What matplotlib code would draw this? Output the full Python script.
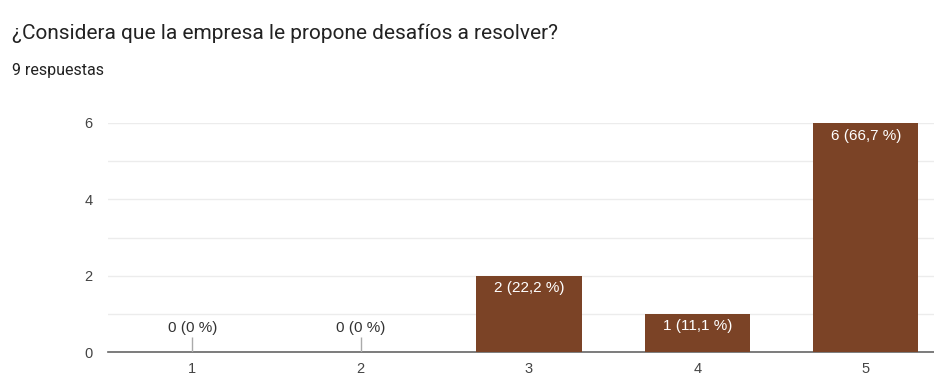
import matplotlib
matplotlib.use("Agg")
import matplotlib.pyplot as plt

categories = [1, 2, 3, 4, 5]
counts = [0, 0, 2, 1, 6]
labels = ["0 (0 %)", "0 (0 %)", "2 (22,2 %)", "1 (11,1 %)", "6 (66,7 %)"]
title = "¿Considera que la empresa le propone desafíos a resolver?"
subtitle = "9 respuestas"
yticks = [0, 2, 4, 6]

W, H = 934, 377
fig = plt.figure(figsize=(W / 100, H / 100), dpi=100)
left, right, top, bottom = 108, 950, 123, 352
ax = fig.add_axes([left / W, 1 - bottom / H, (right - left) / W, (bottom - top) / H])

bar_color = "#7b4326"
ax.bar(categories, counts, width=0.625, color=bar_color, zorder=3)
for x, c, lab in zip(categories, counts, labels):
    if c > 0:
        ax.annotate(lab, (x, c), xytext=(0, -4), textcoords="offset points",
                    ha="center", va="top", color="white", fontsize=11,
                    family=["Liberation Sans"], zorder=4)
    else:
        ax.vlines(x, 0, 0.4, color="#aaaaaa", lw=1.0, zorder=3)
        ax.annotate(lab, (x, 0.4), xytext=(0, 1.5), textcoords="offset points",
                    ha="center", va="bottom", color="#333333", fontsize=11,
                    family=["Liberation Sans"], zorder=4)

ax.set_xlim(0.5, 5.5)
ax.set_ylim(0, 6)
ax.set_xticks(categories)
ax.set_xticklabels([str(c) for c in categories])
ax.set_yticks(yticks)
ax.set_yticks([1, 3, 5], minor=True)
ax.grid(True, axis="y", which="both", color="#ececec", lw=1, zorder=0)
for s in ["top", "right", "left"]:
    ax.spines[s].set_visible(False)
ax.spines["bottom"].set_color("#666666")
ax.spines["bottom"].set_linewidth(1.2)
ax.tick_params(axis="both", which="both", length=0, labelsize=10.5, labelcolor="#444444",
               labelfontfamily="Liberation Sans")
ax.tick_params(axis="x", pad=7)
ax.tick_params(axis="y", pad=11)

fig.text(12 / W, 1 - 33 / H, title, fontsize=15, color="#222222",
         family=["Roboto"], va="center", ha="left")
fig.text(12 / W, 1 - 71 / H, subtitle, fontsize=11.5, color="#222222",
         family=["Roboto"], va="center", ha="left")

fig.savefig("out.png", dpi=100)
